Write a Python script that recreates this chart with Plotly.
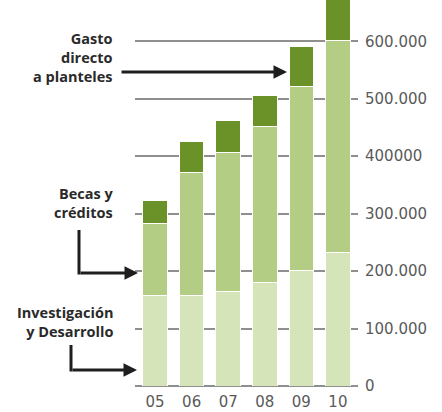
import plotly.graph_objects as go

# Data (values in pesos)
years = ["05", "06", "07", "08", "09", "10"]
investigacion = [157000, 157000, 165000, 180000, 201000, 232000]
becas = [126000, 215000, 242000, 272000, 320000, 369000]
gasto = [40000, 54000, 55000, 54000, 70000, 89000]

tick_vals = [0, 100000, 200000, 300000, 400000, 500000, 600000]
tick_text = ["0", "100.000", "200.000", "300.000", "400000", "500.000", "600.000"]

W, H = 442, 412
ML, MR, MT, MB = 135, 84, 0, 26
PW, PH = W - ML - MR, H - MT - MB

def px(x):
    return (x - ML) / PW

def py(y):
    return (H - MB - y) / PH

c_light = "#d6e5b9"
c_mid = "#b3cd84"
c_dark = "#6a9229"
ink = "#1e1e1e"

fig = go.Figure()
for name, vals, col in [("Investigación y Desarrollo", investigacion, c_light),
                        ("Becas y créditos", becas, c_mid),
                        ("Gasto directo a planteles", gasto, c_dark)]:
    fig.add_trace(go.Bar(x=years, y=vals, name=name, marker_color=col,
                         marker_line=dict(color="white", width=1)))

lab_font = dict(family="Open Sans", size=14.5, color="#2a2a2a")
annots = [
    dict(text="<b>Gasto<br>directo<br>a planteles</b>", x=px(115), y=py(58), align="right",
         xanchor="right", yanchor="middle"),
    dict(text="<b>Becas y<br>créditos</b>", x=px(115), y=py(203), align="right",
         xanchor="right", yanchor="middle"),
    dict(text="<b>Investigación<br>y Desarrollo</b>", x=px(115), y=py(322), align="right",
         xanchor="right", yanchor="middle"),
]
for a in annots:
    a.update(xref="paper", yref="paper", showarrow=False, font=lab_font)

arrows = [
    ((287, 72), (120, 72)),
    ((138, 273), (79, 273)),
    ((137, 370), (71, 370)),
]
for (hx, hy), (tx, ty) in arrows:
    annots.append(dict(x=px(hx), y=py(hy), xref="paper", yref="paper", showarrow=True,
                       ax=tx - hx, ay=ty - hy, arrowhead=2, arrowsize=0.9, arrowwidth=3,
                       arrowcolor=ink, text="", standoff=0))

shapes = [
    dict(type="line", xref="paper", yref="paper", x0=px(79), x1=px(79), y0=py(230), y1=py(274.5),
         line=dict(color=ink, width=3)),
    dict(type="line", xref="paper", yref="paper", x0=px(71), x1=px(71), y0=py(345), y1=py(371.5),
         line=dict(color=ink, width=3)),
]

fig.update_layout(
    width=W, height=H, barmode="stack", bargap=0.33,
    margin=dict(l=ML, r=MR, t=MT, b=MB, pad=0),
    paper_bgcolor="white", plot_bgcolor="white",
    showlegend=False,
    annotations=annots, shapes=shapes,
    xaxis=dict(range=[-0.55, 5.55], showgrid=False, zeroline=False, showline=False, ticks="",
               ticklabelstandoff=5,
               tickfont=dict(family="DejaVu Sans", size=15, color="#5a5a5a")),
    yaxis=dict(range=[0, 672000], side="right", tickvals=tick_vals, ticktext=tick_text,
               showgrid=True, gridcolor="#8f8f8f", gridwidth=2, zeroline=True,
               zerolinecolor="#8f8f8f", zerolinewidth=2, showline=False, ticks="",
               ticklabelstandoff=6,
               tickfont=dict(family="DejaVu Sans", size=15, color="#5a5a5a")),
)

fig.write_html("out.html", config={"displayModeBar": False},
               post_script="document.body.style.margin='0';document.body.style.overflow='hidden';")
